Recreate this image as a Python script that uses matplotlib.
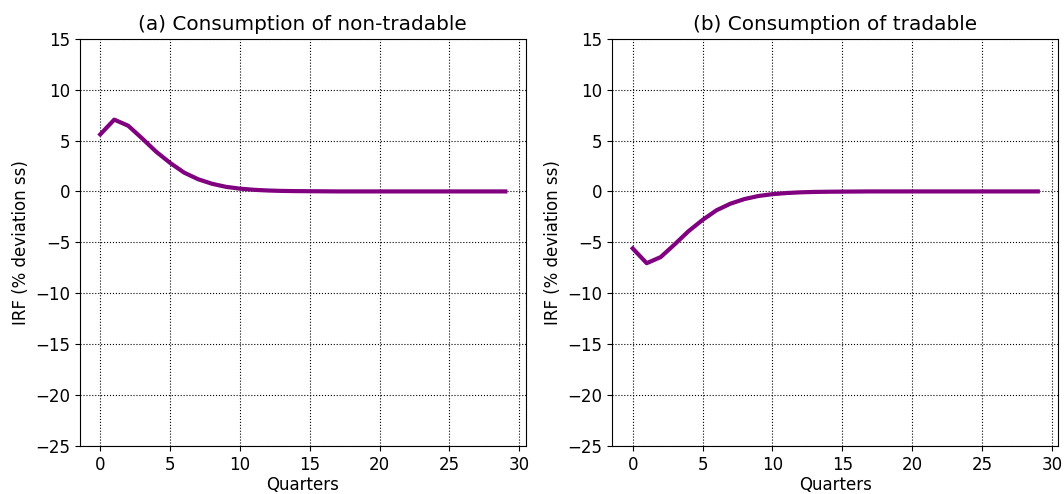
import numpy as np
import matplotlib.pyplot as plt

quarters = np.arange(30)
irf_nontradable = [5.6, 7.05, 6.45, 5.2, 3.9, 2.8, 1.85, 1.2, 0.75, 0.45,
                   0.27, 0.16, 0.09, 0.05, 0.03, 0.02, 0.01, 0.0, 0.0, 0.0,
                   0.0, 0.0, 0.0, 0.0, 0.0, 0.0, 0.0, 0.0, 0.0, 0.0]
irf_tradable = [-v for v in irf_nontradable]

titles = ["(a) Consumption of non-tradable", "(b) Consumption of tradable"]
series = [irf_nontradable, irf_tradable]

fig, axes = plt.subplots(1, 2, figsize=(10.64, 4.94), dpi=100)
for ax, title, vals in zip(axes, titles, series):
    ax.plot(quarters, vals, color="purple", linewidth=3)
    ax.set_title(title, fontsize=14.4)
    ax.set_ylim(-25, 15)
    ax.set_yticks(np.arange(-25, 16, 5))
    ax.set_xticks(np.arange(0, 31, 5))
    ax.set_xlabel("Quarters", fontsize=12, labelpad=2)
    ax.set_ylabel("IRF (% deviation ss)", fontsize=12)
    ax.tick_params(labelsize=12)
    ax.grid(True, color="black", linestyle=":", linewidth=0.8)

plt.subplots_adjust(left=0.0752, right=0.9944, top=0.9217, bottom=0.0972, wspace=0.195)
plt.savefig("out.png")
